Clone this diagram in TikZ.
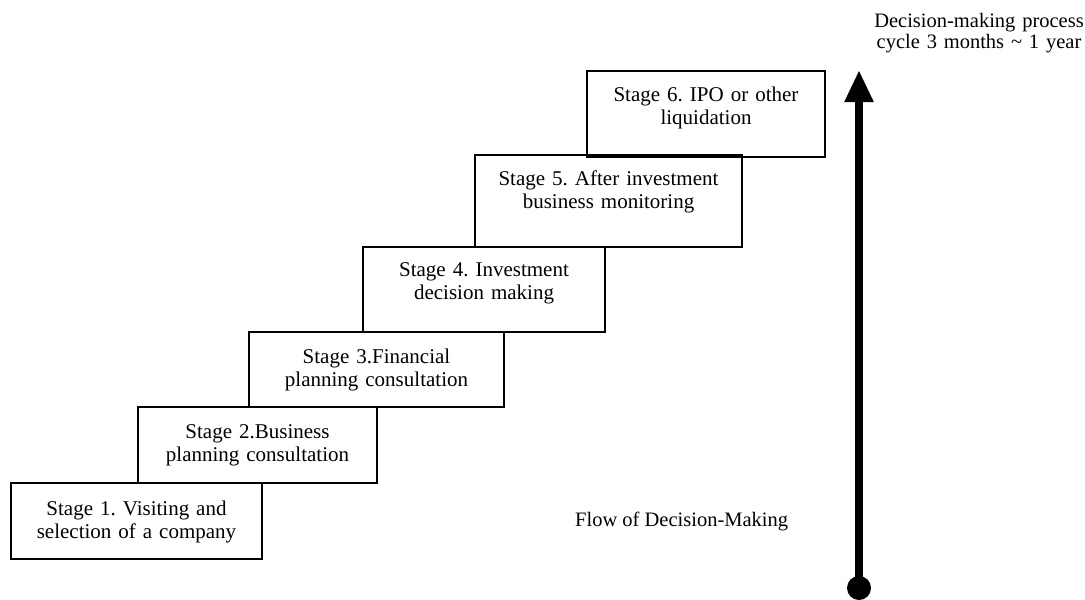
\documentclass[tikz,border=0pt]{standalone}
\usepackage{fontspec}
\setmainfont{Liberation Serif}
\usetikzlibrary{arrows.meta}
\frenchspacing
\begin{document}
\begin{tikzpicture}[x=1pt,y=-1pt,
  stagebox/.style={draw=black, line width=2.2pt, rectangle, inner sep=0pt,
    minimum width=#1},
  stagetext/.style={anchor=base, align=center, text width=#1,
    inner sep=0pt, font=\fontsize{21}{23}\selectfont},
  plaintext/.style={inner sep=0pt, font=\fontsize{20.5}{21.5}\selectfont},
  flowarrow/.style={line width=8pt, -{Triangle[width=27pt,length=32pt]}}]
\useasboundingbox (0,0) rectangle (1085,600);

% staircase of stages (box outlines)
\node[stagebox=251pt, minimum height=76pt] (s1) at (136.5,521) {};
\node[stagebox=239pt, minimum height=76pt] (s2) at (257.5,445) {};
\node[stagebox=255pt, minimum height=75pt] (s3) at (376.5,369.5) {};
\node[stagebox=242pt, minimum height=85pt] (s4) at (484,289.5) {};
\node[stagebox=267pt, minimum height=92pt] (s5) at (608.5,201) {};
\node[stagebox=238pt, minimum height=86pt] (s6) at (706,114) {};

% stage captions
\node[stagetext=240pt] (t1) at (136.5,515) {Stage 1. Visiting and\\selection of a company};
\node[stagetext=230pt] (t2) at (257.5,438) {Stage 2.Business\\planning consultation};
\node[stagetext=245pt] (t3) at (376.5,363) {Stage 3.Financial\\planning consultation};
\node[stagetext=232pt] (t4) at (484,276) {Stage 4. Investment\\decision making};
\node[stagetext=257pt] (t5) at (608.5,185) {Stage 5. After investment\\business monitoring};
\node[stagetext=228pt] (t6) at (706,101) {Stage 6. IPO or other\\liquidation};

% decision-making flow arrow
\node[circle, fill=black, inner sep=0pt, minimum size=24pt] (dot) at (859,588) {};
\coordinate (arrtop) at (859,70);
\draw[flowarrow] (dot.center) -- (arrtop);

\node[plaintext, anchor=base, align=center, text width=240pt] (cycle) at (979,27)
  {Decision-making process\\cycle 3 months \textasciitilde\ 1 year};
\node[plaintext, anchor=base west] (flow) at (575,526) {Flow of Decision-Making};
\end{tikzpicture}
\end{document}
